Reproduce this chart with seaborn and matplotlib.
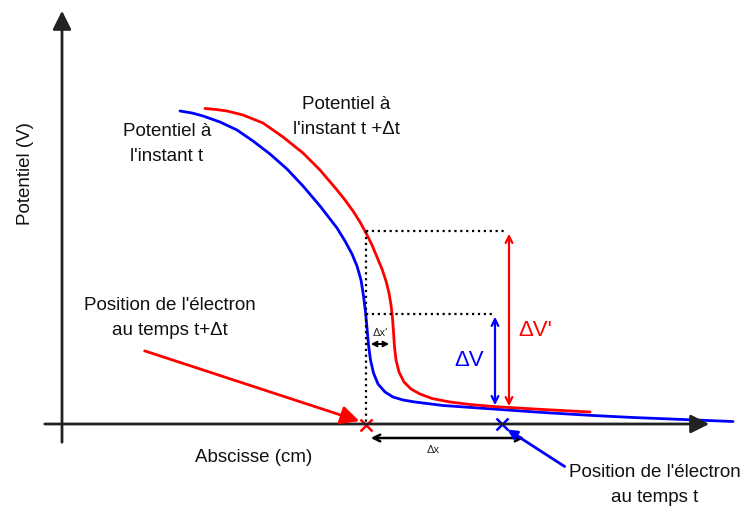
import numpy as np
import pandas as pd
import matplotlib.pyplot as plt
import seaborn as sns

sns.set_style("white")
plt.rcParams['font.family'] = ['Liberation Sans', 'DejaVu Sans']

# -------------------------------------------------
# Schematic (pixel units, y pointing down)
# -------------------------------------------------
blue_x = [180, 192, 203, 220, 237, 253, 270, 287, 303, 320, 337, 345, 352, 357,
          361, 363.5, 365.5, 367, 368.5, 370.5, 373.5, 378, 385, 393, 403, 415,
          443, 493, 543, 593, 633, 683, 733]
blue_y = [111, 113, 116, 122, 130, 141, 154, 169, 186, 206, 228, 241, 254, 266,
          280, 296, 312, 328, 345, 360, 373, 384, 392, 397, 400, 402,
          405.5, 409, 412.5, 415.5, 417.5, 419.5, 421.5]

red_x = [205, 216, 227, 243, 263, 283, 303, 320, 337, 345, 353, 360, 366, 372,
         377, 382, 386, 389, 391, 392.5, 393.5, 394.5, 396, 399, 404, 411, 420,
         432, 450, 470, 493, 518, 543, 568, 590]
red_y = [108.5, 109.5, 111, 115, 123, 137, 153, 170, 190, 200, 211, 222, 233, 245,
         257, 269, 281, 293, 305, 318, 332, 347, 360, 372, 382, 389, 394,
         398.5, 402, 404.5, 406.5, 408, 409.5, 410.8, 412]

# positions of the electron (x) on the abscissa
pos_x = [366, 502]
pos_y = [425, 424]
pos_colors = ["red", "blue"]

# potential levels used for the dotted guides and the delta arrows
x_front = 366
v_red_top = 231
v_blue_top = 314
v_red_bot = 409
v_blue_bot = 408

curves = pd.concat([
    pd.DataFrame({"x": blue_x, "y": blue_y, "t": "t"}),
    pd.DataFrame({"x": red_x, "y": red_y, "t": "t+dt"}),
])

fig = plt.figure(figsize=(7.49, 5.08), dpi=100)
ax = fig.add_axes([0, 0, 1, 1])

# axes with arrows
ax.annotate("", xy=(712, 424), xytext=(42, 424),
            arrowprops=dict(arrowstyle="-|>", color="#222222", lw=2, mutation_scale=28))
ax.annotate("", xy=(62, 8), xytext=(62, 445),
            arrowprops=dict(arrowstyle="-|>", color="#222222", lw=2, mutation_scale=28))

# potential curves
sns.lineplot(data=curves, x="x", y="y", hue="t", palette=["blue", "red"],
             sort=False, estimator=None, lw=2, legend=False, ax=ax)

# dotted guides
ax.plot([x_front, x_front], [v_red_top, 424], ls=":", color="black", lw=1.6)
ax.plot([x_front, 507], [v_red_top, v_red_top], ls=":", color="black", lw=1.6)
ax.plot([x_front, 495], [v_blue_top, v_blue_top], ls=":", color="black", lw=1.6)

# delta V arrows
ax.annotate("", xy=(509, v_red_top), xytext=(509, v_red_bot),
            arrowprops=dict(arrowstyle="<->", color="red", lw=1.6, mutation_scale=12))
ax.annotate("", xy=(495, v_blue_top), xytext=(495, v_blue_bot),
            arrowprops=dict(arrowstyle="<->", color="blue", lw=1.6, mutation_scale=12))
ax.text(535, 331, "ΔV'", color="red", fontsize=16, ha="center", va="center")
ax.text(469, 360, "ΔV", color="blue", fontsize=16, ha="center", va="center")

# delta x arrows
ax.annotate("", xy=(392, 344), xytext=(368, 344),
            arrowprops=dict(arrowstyle="<->", color="black", lw=1.5, mutation_scale=8))
ax.text(380, 333, "Δx'", fontsize=8, ha="center", va="center")
ax.annotate("", xy=(527, 438), xytext=(368, 438),
            arrowprops=dict(arrowstyle="<->", color="black", lw=1.8, mutation_scale=12))
ax.text(433, 450, "Δx", fontsize=8, ha="center", va="center")

# electron positions
for px, py, c in zip(pos_x, pos_y, pos_colors):
    ax.plot(px, py, marker="x", color=c, ms=8, mew=1.8)

# pointers
ax.annotate("", xy=(362, 422), xytext=(142, 350),
            arrowprops=dict(arrowstyle="-|>", color="red", lw=2, mutation_scale=28))
ax.annotate("", xy=(505, 428), xytext=(567, 468),
            arrowprops=dict(arrowstyle="-|>", color="blue", lw=2, mutation_scale=14))

# labels
txt = dict(fontsize=13.5, ha="center", va="center", linespacing=1.6, color="#111111")
ax.text(167, 144, "Potentiel à\nl'instant t", **txt)
ax.text(346, 117, "Potentiel à\nl'instant t +Δt", **txt)
ax.text(170, 318, "Position de l'électron\nau temps t+Δt", **txt)
ax.text(655, 485, "Position de l'électron\nau temps t", **txt)
ax.text(254, 458, "Abscisse (cm)", **txt)
ax.text(25, 174, "Potentiel (V)", rotation=90, **txt)

ax.set_xlim(0, 749)
ax.set_ylim(508, 0)
ax.axis("off")

plt.savefig("out.png", dpi=100)
